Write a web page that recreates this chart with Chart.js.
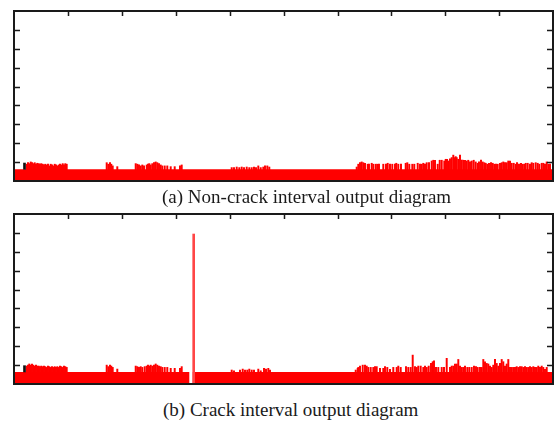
<!DOCTYPE html>
<html>
<head>
<meta charset="utf-8">
<script src="https://cdn.jsdelivr.net/npm/chart.js@4"></script>
<style>
  body { margin: 0; background: #fff; width: 554px; height: 421px; position: relative; overflow: hidden; }
  canvas { position: absolute; left: 0; }
  .cap { position: absolute; font-family: "Liberation Serif", "Times New Roman", serif; font-size: 19px; line-height: 22px; color: #1a1a1a; white-space: nowrap; }
</style>
</head>
<body>
<canvas id="chartA" width="554" height="191" style="top:0"></canvas>
<canvas id="chartB" width="554" height="191" style="top:203px"></canvas>
<div class="cap" id="capA" style="left:162px; top:186px">(a) Non-crack interval output diagram</div>
<div class="cap" id="capB" style="left:163px; top:399px">(b) Crack interval output diagram</div>
<script>
// x = position along the interval (plot units), y = output value
const xTickValues = [54, 108, 162, 216, 270, 324, 377, 431, 485];
const yTickValues = [1, 2, 3, 4, 5, 6, 7, 8];

const baseA = 0.62;
const baseB = 0.64;
const crackGap = [175.3, 178.7];
const crackPeak = [179.7, 7.94];
const markerPos = 10.5;

const spikesA = [
  [12.7,.89],[14,.97],[15.3,.92],[16.7,1.01],[18,.97],[19.3,.92],[20.7,.97],[22,.89],[23.3,.94],[24.7,.92],
  [26,.89],[27.3,.92],[28.7,.89],[30,.85],[31.3,.89],[32.7,.85],[34,.89],[35.3,.8],[36.7,.89],[38,.85],
  [39.3,.8],[40.7,.89],[42,.85],[43.3,.8],[44.7,.85],[46,.89],[47.3,.85],[48.7,.92],[50,.85],[51.3,.92],[52.7,.89],
  [92.7,.97],[94.3,.89],[96,.97],[97.3,.89],[98.7,.8],[103.3,.76],
  [121.7,.92],[123.3,.89],[125,.85],[126.7,.8],[128.3,.85],[130,.8],[132.7,.85],[134,.89],[135.3,.92],[136.7,.85],
  [138.3,.92],[140,.97],[141.7,1.01],[143.3,.97],[145,.92],[146.7,.85],[148.3,.8],[150.7,.8],[153.3,.8],
  [156.7,.76],[160.7,.76],[166,.8],[167.7,.85],
  [217.7,.71],[220,.71],[222.7,.74],[225.3,.71],[227.7,.74],[230,.71],[232.7,.74],[235.3,.71],[237.7,.71],
  [240,.74],[242,.71],[244.3,.8],[246.7,.71],[249.3,.74],[251,.8],[253.3,.8],[255.3,.74],
  [342.7,.74],[344.3,.89],[346,.97],[347.7,1.01],[349.3,.97],[351,.94],[353.7,.89],[355,.89],[357.7,.94],
  [359.3,.89],[361.7,.89],[363.3,.89],[365,.89],[369.3,.89],[372,.89],[373.7,.94],[376,.89],[378.3,.89],
  [381,.89],[382.3,.94],[384.3,.89],[387,.89],[391.7,.94],[393.3,.97],[395.3,.89],[398.3,.89],[400.3,.89],
  [403.7,.94],[406,.89],[407.7,.89],[409.3,.94],[411,.89],[412.7,.97],[415,.97],[417.7,1.06],[419.3,1.1],
  [421,1.1],[423.7,.89],[425.7,1.1],[427.7,1.1],[430.3,1.06],[431.7,1.15],[433,1.15],[434.3,1.06],[436,1.18],
  [437.7,1.24],[439.3,1.37],[440.3,1.24],[441.7,1.29],[442.7,1.24],[444.3,1.15],[446,1.37],[447.7,1.11],
  [449.3,1.1],[451,1.1],[452.7,1.06],[454.3,1.1],[456,1.01],[457.7,1.06],[459.7,1.1],[461.7,1.01],[463.7,.94],
  [465,1.01],[467,1.11],[468.7,1.01],[470.3,.97],[471.7,.94],[473.3,.89],[475,.94],[477,.97],[478.7,.94],
  [480.3,.89],[482,.89],[483.7,.89],[486,.94],[487.7,.97],[489.3,1.01],[491,.97],[492.7,.97],[494.3,1.06],
  [496,1.06],[497.7,.94],[499.7,.94],[501.7,.89],[503,.97],[505,.89],[507,.94],[508.7,.89],[510.3,.89],
  [511.7,.94],[513.7,.94],[516,.89],[517.7,.97],[519.3,.94],[521.7,.97],[523.7,.94],[525.3,.89],[527.7,.94],
  [529.3,.94],[531,.89],[532.7,1.01],[534.3,.89],[536,.89]
];

const spikesB = [
  [12.7,.95],[14,1],[15.3,1.06],[16.7,1],[18,1.06],[19.3,1],[20.7,.95],[22,1],[23.3,.95],[24.7,.95],
  [26,.92],[27.3,.95],[28.7,.92],[30,.95],[31.3,.92],[32.7,.88],[34,.95],[35.3,.92],[36.7,.88],[38,.92],
  [39.3,.88],[40.7,.92],[42,.88],[43.3,.92],[44.7,.88],[46,.95],[47.3,.92],[48.7,.88],[50,.95],[51.3,.92],[52.7,.88],
  [92.7,1],[94.3,.92],[96,1],[97.3,.95],[98.7,.88],[103.3,.79],
  [121.7,.95],[123.3,.92],[125,.88],[126.7,.92],[128.3,.88],[130.7,.92],[132.7,.95],[134,1],[135.3,.95],
  [136.7,1],[138.3,.95],[140,1],[141.7,1.06],[143.3,1],[145,.95],[146.7,.92],[148.3,.88],[150.7,.88],
  [153.3,.88],[156.7,.83],[160.7,.83],[166,.83],[167.7,.92],
  [217.7,.74],[220,.7],[226,.74],[228.7,.79],[231,.74],[233.3,.74],[235.3,.79],[237.7,.74],[240,.74],
  [244.3,.79],[246.7,.7],[250,.83],[252,.79],[254.3,.83],[256,.74],
  [341.7,.74],[343.7,.83],[344.3,.88],[346,.95],[348.7,1],[351,1],[352.7,.95],[354.3,.88],[356.7,.88],
  [359.3,.88],[361,.92],[362.7,.92],[366,.83],[369.3,.83],[371,.92],[373.3,.88],[376,.78],[379.3,.88],
  [382.7,.88],[384.3,.95],[386.7,.88],[392,.92],[394.3,.88],[396.7,.88],[398.7,1.53],[401,.92],[402.7,.88],
  [404.3,.95],[406.7,.95],[409.3,.88],[411,.95],[412.7,.88],[414.7,.95],[417,1.09],[418.7,1.18],[420,1.23],
  [422,.88],[424.3,.88],[427.7,.88],[430,.88],[432.7,1.36],[436,.88],[437.7,.95],[439.3,.95],[441,1.06],
  [442.7,1.06],[444.3,1.3],[446,.95],[447.7,.88],[449.3,.88],[451,.95],[453.3,.88],[455.3,.88],[457.7,.88],
  [460,.95],[462,.92],[463.7,.88],[466,.88],[467.7,.88],[469.3,1.3],[471,1.18],[472.7,1.09],[474.3,1.06],
  [476,.95],[477.7,.88],[479.3,1],[481,1.3],[482.7,1.09],[484.3,.95],[486,1.09],[487.7,1.3],[489.3,1.18],
  [491,.95],[492.7,1.06],[494.3,1.3],[496,.88],[497.7,.88],[499.3,.88],[501,.88],[502.7,.92],[504.3,.88],
  [506,.92],[507.7,.92],[509.3,.88],[511,.92],[512.7,.88],[514.3,.88],[516,.92],[517.7,.88],[519.3,.92],
  [521,.88],[522.7,.88],[524.3,.95],[526,.88],[527.7,.95],[529.3,.88],[531,.78],[532.7,.88]
];

const X_MAX = 539;
const Y_MAX = 9;

const framePlugin = {
  id: 'frame',
  afterDatasetsDraw(chart) {
    const { ctx, chartArea: a, scales: { x, y } } = chart;
    ctx.save();
    ctx.strokeStyle = '#1a1a1a';
    ctx.lineWidth = 2;
    ctx.strokeRect(a.left, a.top, a.right - a.left, a.bottom - a.top);
    ctx.lineWidth = 1.5;
    ctx.beginPath();
    xTickValues.forEach(v => {
      const px = Math.round(x.getPixelForValue(v)) + 0.5;
      ctx.moveTo(px, a.top);
      ctx.lineTo(px, a.top + 5);
    });
    yTickValues.forEach(v => {
      const py = Math.round(y.getPixelForValue(v)) + 0.5;
      ctx.moveTo(a.left, py);
      ctx.lineTo(a.left + 6, py);
      ctx.moveTo(a.right, py);
      ctx.lineTo(a.right - 6, py);
    });
    ctx.stroke();
    ctx.restore();
  }
};

function baseLine(level, gap) {
  if (!gap) return [{ x: 0, y: level }, { x: X_MAX, y: level }];
  return [
    { x: 0, y: level }, { x: gap[0], y: level }, { x: gap[0], y: 0 },
    { x: gap[1], y: 0 }, { x: gap[1], y: level }, { x: X_MAX, y: level }
  ];
}

function makeChart(canvasId, spikes, level, gap, peak) {
  const ctx = document.getElementById(canvasId).getContext('2d');
  const datasets = [
    {
      type: 'line',
      data: baseLine(level, gap),
      borderWidth: 0,
      pointRadius: 0,
      fill: 'origin',
      backgroundColor: '#ff0000',
      tension: 0,
      order: 2
    },
    {
      type: 'bar',
      data: spikes.map(([x, y]) => ({ x, y })),
      backgroundColor: '#ff0000',
      barThickness: 1.3,
      grouped: false,
      borderWidth: 0,
      order: 1
    },
    {
      type: 'bar',
      data: [{ x: markerPos, y: [level, level + 0.33] }],
      backgroundColor: '#111',
      barThickness: 2,
      grouped: false,
      borderWidth: 0,
      order: 0
    }
  ];
  if (peak) {
    datasets.push({
      type: 'bar',
      data: [{ x: peak[0], y: peak[1] }],
      backgroundColor: '#ff4646',
      barThickness: 2,
      grouped: false,
      borderWidth: 0,
      order: 0
    });
  }
  return new Chart(ctx, {
    type: 'bar',
    data: { datasets: datasets },
    options: {
      responsive: false,
      animation: false,
      devicePixelRatio: 1,
      layout: { padding: { left: 14, right: 1, top: 11, bottom: 10 } },
      plugins: { legend: { display: false }, tooltip: { enabled: false } },
      scales: {
        x: { type: 'linear', min: 0, max: X_MAX, display: false, offset: false },
        y: { min: 0, max: Y_MAX, display: false }
      }
    },
    plugins: [framePlugin]
  });
}

makeChart('chartA', spikesA, baseA, null, null);
makeChart('chartB', spikesB, baseB, crackGap, crackPeak);
</script>
</body>
</html>
